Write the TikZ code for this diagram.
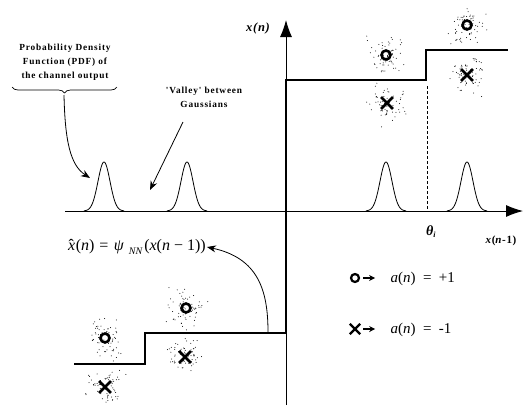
\documentclass[tikz,border=0pt]{standalone}
\usepackage{fontspec}
\setmainfont{Liberation Serif}
\newfontfamily\lblfont[LetterSpace=9]{Liberation Serif}
\newfontfamily\axfont[LetterSpace=6]{Liberation Serif}
\usetikzlibrary{arrows.meta,decorations.pathreplacing,shapes.misc}
\begin{document}
\begin{tikzpicture}[x=1pt,y=-1pt,
  axis/.style={line width=0.9pt},
  stepline/.style={line width=2.3pt},
  gauss/.style={line width=0.8pt},
  note/.style={font=\lblfont\bfseries\fontsize{9.3}{14}\selectfont, align=center, inner sep=0pt},
  callout/.style={line width=0.8pt,-{Stealth[length=9pt,width=7pt]}},
  omark/.style={circle, draw, line width=2.6pt, minimum size=9pt, inner sep=0pt},
  xmark/.style={cross out, draw, line width=2.8pt, minimum size=9pt, inner sep=0pt},
  dot/.style={fill=black}
]
\useasboundingbox (0,0) rectangle (523,405);
\pgfmathsetseed{4271}

% axes
\coordinate (hl) at (65,211);
\coordinate (hr) at (523,211);
\coordinate (vb) at (286,405);
\coordinate (vt) at (286,20);
\draw[axis,-{Latex[length=17pt,width=12pt]}] (hl) -- (hr);
\draw[axis,-{Latex[length=17pt,width=12pt]}] (vb) -- (vt);

% staircase
\coordinate (s1) at (74,364);
\coordinate (s2) at (145,364);
\coordinate (s3) at (145,333);
\coordinate (s4) at (286,333);
\coordinate (s5) at (286,80);
\coordinate (s6) at (426,80);
\coordinate (s7) at (426,50);
\coordinate (s8) at (508,50);
\draw[stepline,line join=miter] (s1) -- (s2) -- (s3) -- (s4) -- (s5) -- (s6) -- (s7) -- (s8);

% threshold
\coordinate (th1) at (427,86);
\coordinate (th2) at (427,211);
\draw[line width=0.6pt,dash pattern=on 3pt off 2pt] (th1) -- (th2);

% gaussians
\foreach \c in {104,187,386,467}{
  \draw[gauss] plot[domain=-20:20,samples=61,smooth] ({\c+\x},{211-49*exp(-\x*\x/72)});
}

% scatter clusters
\foreach \cx/\cy in {386/55,387/103,467/25,467/75,186/308,185/357,105/338,105/387}{
  \foreach \i in {1,...,70}{
    \fill[dot] ({\cx+8.5*(rand+rand+rand)},{\cy+8.5*(rand+rand+rand)}) circle (0.5);
  }
}
\node[omark] (o1) at (386,55) {};
\node[xmark] (x1) at (387,103) {};
\node[omark] (o2) at (467,25) {};
\node[xmark] (x2) at (467,75) {};
\node[omark] (o3) at (186,308) {};
\node[xmark] (x3) at (185,357) {};
\node[omark] (o4) at (105,338) {};
\node[xmark] (x4) at (105,387) {};

% axis labels
\node[font=\axfont\bfseries\itshape\fontsize{12.5}{14}\selectfont] (xn) at (258,28) {x(n)};
\node[font=\axfont\bfseries\fontsize{11}{12}\selectfont] (xn1) at (501,241) {\textit{x}(\textit{n}-1)};
\node[font=\bfseries\itshape\fontsize{14}{16}\selectfont] (theta) at (431,232) {θ\textsubscript{\fontsize{8}{9}\selectfont i}};

% PDF annotation
\node[note] (pdf) at (65,62) {Probability Density\\Function (PDF) of\\the channel output};
\coordinate (bl) at (12,87);
\coordinate (br) at (117,87);
\draw[line width=0.7pt,decorate,decoration={brace,mirror,amplitude=6pt}] (bl) -- (br);
\coordinate (btip) at (64,95);
\coordinate (g1) at (90,178);
\draw[callout] (btip) .. controls (65,140) and (70,165) .. (g1);

% valley annotation
\node[note] (valley) at (204,97) {'Valley' between\\Gaussians};
\coordinate (vs) at (183,122);
\coordinate (ve) at (150,190);
\draw[callout] (vs) -- (ve);

% formula
\node[font=\fontsize{16}{18}\selectfont, inner sep=1pt] (formula) at (137,247)
  {\textit{x}\kern-0.42em\raisebox{0.05em}{ˆ}\kern0.12em(\textit{n})\hspace{0.3em}=\hspace{0.35em}\textit{ψ}\hspace{0.3em}\raisebox{-0.25em}{\fontsize{10}{11}\selectfont\textit{NN}}\hspace{0.1em}(\textit{x}(\textit{n} − 1))};
\coordinate (fs) at (268,332);
\draw[callout] (fs) .. controls (268,290) and (258,258) .. (formula.east);

% legend
\node[omark,line width=2.2pt,minimum size=8pt] (lo) at (355,278) {};
\node[xmark,line width=2.4pt,minimum size=8pt] (lx) at (355,329) {};
\node[font=\fontsize{15}{17}\selectfont, anchor=west] (la) at (387,279) {\textit{a}(\textit{n})\hspace{0.5em}=\hspace{0.5em}+1};
\node[font=\fontsize{15}{17}\selectfont, anchor=west] (lb) at (387,330) {\textit{a}(\textit{n})\hspace{0.5em}=\hspace{0.5em}-1};
\draw[line width=1.2pt,-{Stealth[length=6pt,width=6pt]}] (lo.east) ++(3,0) -- ++(12,0);
\draw[line width=1.2pt,-{Stealth[length=6pt,width=6pt]}] (lx.east) ++(3,0) -- ++(12,0);
\end{tikzpicture}
\end{document}
